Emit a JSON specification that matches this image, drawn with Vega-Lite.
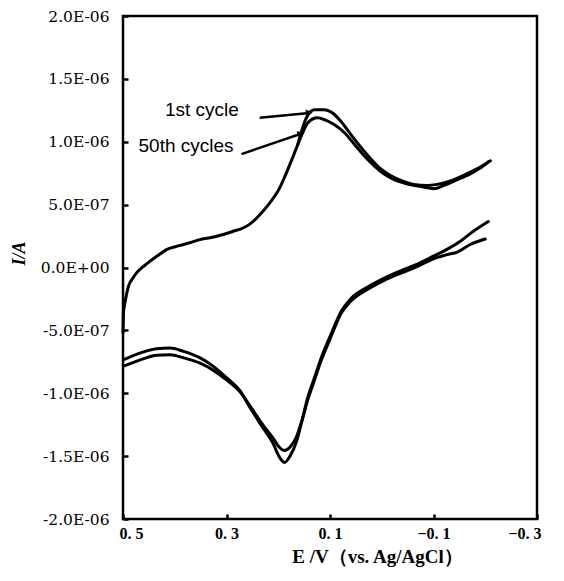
{
  "$schema": "https://vega.github.io/schema/vega-lite/v6.json",
  "width": 414,
  "height": 503,
  "autosize": {"type": "none"},
  "padding": {"left": 123, "top": 16, "right": 27, "bottom": 62},
  "background": "white",
  "config": {
    "view": {"stroke": "black", "strokeWidth": 2.5},
    "axis": {"domain": false, "grid": false, "labelColor": "black", "titleColor": "black", "tickColor": "black"}
  },
  "datasets": {
    "curve": [
      {"s":"u0","i":0,"E":0.500,"I":-5.2e-7},{"s":"u0","i":1,"E":0.4995,"I":-4.3e-7},{"s":"u0","i":2,"E":0.499,"I":-3.5e-7},{"s":"u0","i":3,"E":0.497,"I":-3.0e-7},{"s":"u0","i":4,"E":0.493,"I":-2.1e-7},{"s":"u0","i":5,"E":0.489,"I":-1.44e-7},{"s":"u0","i":6,"E":0.481,"I":-8.5e-8},{"s":"u0","i":7,"E":0.473,"I":-3.9e-8},{"s":"u0","i":8,"E":0.460,"I":1.0e-8},{"s":"u0","i":9,"E":0.447,"I":5.3e-8},{"s":"u0","i":10,"E":0.431,"I":1.0e-7},{"s":"u0","i":11,"E":0.415,"I":1.44e-7},{"s":"u0","i":12,"E":0.399,"I":1.65e-7},{"s":"u0","i":13,"E":0.383,"I":1.83e-7},{"s":"u0","i":14,"E":0.367,"I":2.02e-7},{"s":"u0","i":15,"E":0.351,"I":2.22e-7},{"s":"u0","i":16,"E":0.335,"I":2.35e-7},{"s":"u0","i":17,"E":0.319,"I":2.49e-7},{"s":"u0","i":18,"E":0.303,"I":2.66e-7},{"s":"u0","i":19,"E":0.287,"I":2.88e-7},{"s":"u0","i":20,"E":0.268,"I":3.14e-7},{"s":"u0","i":21,"E":0.255,"I":3.45e-7},{"s":"u0","i":22,"E":0.242,"I":3.92e-7},{"s":"u0","i":23,"E":0.230,"I":4.45e-7},{"s":"u0","i":24,"E":0.217,"I":5.10e-7},{"s":"u0","i":25,"E":0.198,"I":6.27e-7},{"s":"u0","i":26,"E":0.185,"I":7.45e-7},{"s":"u0","i":27,"E":0.172,"I":8.76e-7},{"s":"u0","i":28,"E":0.162,"I":9.80e-7},
      {"s":"u1","i":0,"E":0.162,"I":9.8e-7},{"s":"u1","i":1,"E":0.153,"I":1.11e-6},{"s":"u1","i":2,"E":0.143,"I":1.21e-6},{"s":"u1","i":3,"E":0.130,"I":1.255e-6},{"s":"u1","i":4,"E":0.111,"I":1.255e-6},{"s":"u1","i":5,"E":0.095,"I":1.229e-6},{"s":"u1","i":6,"E":0.079,"I":1.163e-6},{"s":"u1","i":7,"E":0.060,"I":1.059e-6},{"s":"u1","i":8,"E":0.040,"I":9.55e-7},{"s":"u1","i":9,"E":0.021,"I":8.63e-7},{"s":"u1","i":10,"E":0.002,"I":7.84e-7},{"s":"u1","i":11,"E":-0.017,"I":7.32e-7},{"s":"u1","i":12,"E":-0.037,"I":6.93e-7},{"s":"u1","i":13,"E":-0.062,"I":6.61e-7},{"s":"u1","i":14,"E":-0.088,"I":6.53e-7},{"s":"u1","i":15,"E":-0.107,"I":6.61e-7},{"s":"u1","i":16,"E":-0.133,"I":6.88e-7},{"s":"u1","i":17,"E":-0.158,"I":7.32e-7},{"s":"u1","i":18,"E":-0.184,"I":7.84e-7},{"s":"u1","i":19,"E":-0.210,"I":8.49e-7},
      {"s":"u50","i":0,"E":0.162,"I":9.8e-7},{"s":"u50","i":1,"E":0.153,"I":1.07e-6},{"s":"u50","i":2,"E":0.143,"I":1.15e-6},{"s":"u50","i":3,"E":0.124,"I":1.19e-6},{"s":"u50","i":4,"E":0.111,"I":1.176e-6},{"s":"u50","i":5,"E":0.092,"I":1.137e-6},{"s":"u50","i":6,"E":0.072,"I":1.072e-6},{"s":"u50","i":7,"E":0.053,"I":9.80e-7},{"s":"u50","i":8,"E":0.034,"I":8.89e-7},{"s":"u50","i":9,"E":0.015,"I":8.10e-7},{"s":"u50","i":10,"E":-0.004,"I":7.45e-7},{"s":"u50","i":11,"E":-0.024,"I":6.98e-7},{"s":"u50","i":12,"E":-0.043,"I":6.72e-7},{"s":"u50","i":13,"E":-0.062,"I":6.53e-7},{"s":"u50","i":14,"E":-0.088,"I":6.35e-7},{"s":"u50","i":15,"E":-0.101,"I":6.27e-7},{"s":"u50","i":16,"E":-0.120,"I":6.53e-7},{"s":"u50","i":17,"E":-0.146,"I":6.98e-7},{"s":"u50","i":18,"E":-0.171,"I":7.45e-7},{"s":"u50","i":19,"E":-0.197,"I":8.10e-7},{"s":"u50","i":20,"E":-0.207,"I":8.43e-7},
      {"s":"l1","i":0,"E":-0.206,"I":3.66e-7},{"s":"l1","i":1,"E":-0.177,"I":2.88e-7},{"s":"l1","i":2,"E":-0.152,"I":2.09e-7},{"s":"l1","i":3,"E":-0.126,"I":1.44e-7},{"s":"l1","i":4,"E":-0.101,"I":9.2e-8},{"s":"l1","i":5,"E":-0.069,"I":2.6e-8},{"s":"l1","i":6,"E":-0.037,"I":-2.6e-8},{"s":"l1","i":7,"E":-0.004,"I":-8.6e-8},{"s":"l1","i":8,"E":0.028,"I":-1.57e-7},{"s":"l1","i":9,"E":0.060,"I":-2.49e-7},{"s":"l1","i":10,"E":0.079,"I":-3.53e-7},{"s":"l1","i":11,"E":0.092,"I":-4.71e-7},{"s":"l1","i":12,"E":0.104,"I":-5.88e-7},{"s":"l1","i":13,"E":0.117,"I":-7.19e-7},{"s":"l1","i":14,"E":0.130,"I":-8.76e-7},{"s":"l1","i":15,"E":0.143,"I":-1.033e-6},{"s":"l1","i":16,"E":0.153,"I":-1.2e-6},{"s":"l1","i":17,"E":0.165,"I":-1.388e-6},{"s":"l1","i":18,"E":0.177,"I":-1.498e-6},{"s":"l1","i":19,"E":0.188,"I":-1.55e-6},{"s":"l1","i":20,"E":0.200,"I":-1.49e-6},{"s":"l1","i":21,"E":0.210,"I":-1.398e-6},{"s":"l1","i":22,"E":0.229,"I":-1.278e-6},{"s":"l1","i":23,"E":0.255,"I":-1.111e-6},{"s":"l1","i":24,"E":0.274,"I":-9.8e-7},{"s":"l1","i":25,"E":0.300,"I":-8.76e-7},{"s":"l1","i":26,"E":0.326,"I":-7.84e-7},{"s":"l1","i":27,"E":0.351,"I":-7.19e-7},{"s":"l1","i":28,"E":0.383,"I":-6.67e-7},{"s":"l1","i":29,"E":0.409,"I":-6.41e-7},{"s":"l1","i":30,"E":0.435,"I":-6.47e-7},{"s":"l1","i":31,"E":0.460,"I":-6.71e-7},{"s":"l1","i":32,"E":0.486,"I":-7.10e-7},{"s":"l1","i":33,"E":0.499,"I":-7.32e-7},
      {"s":"l50","i":0,"E":-0.200,"I":2.27e-7},{"s":"l50","i":1,"E":-0.171,"I":1.83e-7},{"s":"l50","i":2,"E":-0.146,"I":1.23e-7},{"s":"l50","i":3,"E":-0.126,"I":1.02e-7},{"s":"l50","i":4,"E":-0.101,"I":7.1e-8},{"s":"l50","i":5,"E":-0.069,"I":8e-9},{"s":"l50","i":6,"E":-0.037,"I":-4.5e-8},{"s":"l50","i":7,"E":-0.004,"I":-1.04e-7},{"s":"l50","i":8,"E":0.028,"I":-1.75e-7},{"s":"l50","i":9,"E":0.060,"I":-2.69e-7},{"s":"l50","i":10,"E":0.079,"I":-3.69e-7},{"s":"l50","i":11,"E":0.092,"I":-4.89e-7},{"s":"l50","i":12,"E":0.104,"I":-6.09e-7},{"s":"l50","i":13,"E":0.117,"I":-7.40e-7},{"s":"l50","i":14,"E":0.130,"I":-8.96e-7},{"s":"l50","i":15,"E":0.143,"I":-1.053e-6},{"s":"l50","i":16,"E":0.153,"I":-1.2e-6},{"s":"l50","i":17,"E":0.165,"I":-1.349e-6},{"s":"l50","i":18,"E":0.177,"I":-1.427e-6},{"s":"l50","i":19,"E":0.188,"I":-1.455e-6},{"s":"l50","i":20,"E":0.200,"I":-1.42e-6},{"s":"l50","i":21,"E":0.210,"I":-1.357e-6},{"s":"l50","i":22,"E":0.229,"I":-1.255e-6},{"s":"l50","i":23,"E":0.255,"I":-1.098e-6},{"s":"l50","i":24,"E":0.274,"I":-9.88e-7},{"s":"l50","i":25,"E":0.300,"I":-8.94e-7},{"s":"l50","i":26,"E":0.326,"I":-8.16e-7},{"s":"l50","i":27,"E":0.351,"I":-7.61e-7},{"s":"l50","i":28,"E":0.383,"I":-7.18e-7},{"s":"l50","i":29,"E":0.409,"I":-6.94e-7},{"s":"l50","i":30,"E":0.435,"I":-6.98e-7},{"s":"l50","i":31,"E":0.460,"I":-7.25e-7},{"s":"l50","i":32,"E":0.486,"I":-7.65e-7},{"s":"l50","i":33,"E":0.499,"I":-7.84e-7}
    ],
    "notes": [
      {"t":"1st cycle","E":0.419,"I":1.255e-6},
      {"t":"50th cycles","E":0.470,"I":9.67e-7}
    ],
    "arrows": [
      {"a":"1","E":0.236,"I":1.19e-6,"E2":0.140,"I2":1.229e-6},
      {"a":"2","E":0.271,"I":9.02e-7,"E2":0.156,"I2":1.064e-6}
    ]
  },
  "encoding": {
    "x": {
      "field": "E", "type": "quantitative",
      "scale": {"domain": [-0.3, 0.5], "reverse": true, "nice": false, "zero": false},
      "axis": {
        "values": [0.5, 0.3, 0.1, -0.1, -0.3],
        "labelExpr": "replace(replace(format(datum.value, '.1f'), '.', '. '), '-', '−')",
        "labelFont": "Liberation Serif", "labelFontSize": 16, "labelFontWeight": "bold",
        "labelFlush": true, "labelFlushOffset": 4,
        "offset": -5, "tickSize": 5, "tickWidth": 2.5, "labelPadding": 6,
        "title": "E /V（vs. Ag/AgCl）",
        "titleFont": "Liberation Serif", "titleFontSize": 19, "titleFontWeight": "bold",
        "titleX": 254, "titleY": 48, "titleAlign": "center", "titleBaseline": "alphabetic"
      }
    },
    "y": {
      "field": "I", "type": "quantitative",
      "scale": {"domain": [-2e-6, 2e-6], "nice": false, "zero": false},
      "axis": {
        "values": [2e-6, 1.5e-6, 1e-6, 5e-7, 0, -5e-7, -1e-6, -1.5e-6, -2e-6],
        "labelExpr": "replace(replace(replace(format(datum.value, '.1e'), '−', '-'), 'e-', 'E-0'), 'e+', 'E+0')",
        "labelFont": "DejaVu Serif", "labelFontSize": 15.5,
        "offset": -5, "tickSize": 5, "tickWidth": 2.5, "labelPadding": 14,
        "title": "I/A",
        "titleFont": "Liberation Serif", "titleFontSize": 18, "titleFontWeight": "bold", "titleFontStyle": "italic",
        "titleX": -109, "titleY": 237, "titleAlign": "center", "titleBaseline": "middle", "titleAngle": -90
      }
    }
  },
  "layer": [
    {
      "data": {"name": "curve"},
      "mark": {"type": "line", "stroke": "black", "strokeWidth": 3, "interpolate": "monotone", "strokeJoin": "round", "strokeCap": "round"},
      "encoding": {
        "detail": {"field": "s", "type": "nominal"},
        "order": {"field": "i", "type": "quantitative"}
      }
    },
    {
      "data": {"name": "arrows"},
      "mark": {"type": "rule", "stroke": "black", "strokeWidth": 2.5},
      "encoding": {
        "x2": {"field": "E2"},
        "y2": {"field": "I2"}
      }
    },
    {
      "data": {"name": "arrows"},
      "transform": [{"filter": "datum.a == '1'"}],
      "mark": {"type": "point", "shape": "triangle-right", "filled": true, "color": "black", "size": 60, "angle": 354, "opacity": 1},
      "encoding": {
        "x": {"field": "E2", "type": "quantitative"},
        "y": {"field": "I2", "type": "quantitative"}
      }
    },
    {
      "data": {"name": "arrows"},
      "transform": [{"filter": "datum.a == '2'"}],
      "mark": {"type": "point", "shape": "triangle-right", "filled": true, "color": "black", "size": 60, "angle": 341, "opacity": 1},
      "encoding": {
        "x": {"field": "E2", "type": "quantitative"},
        "y": {"field": "I2", "type": "quantitative"}
      }
    },
    {
      "data": {"name": "notes"},
      "mark": {"type": "text", "align": "left", "baseline": "middle", "font": "Liberation Sans", "fontSize": 19, "color": "black"},
      "encoding": {
        "text": {"field": "t", "type": "nominal"}
      }
    }
  ]
}
